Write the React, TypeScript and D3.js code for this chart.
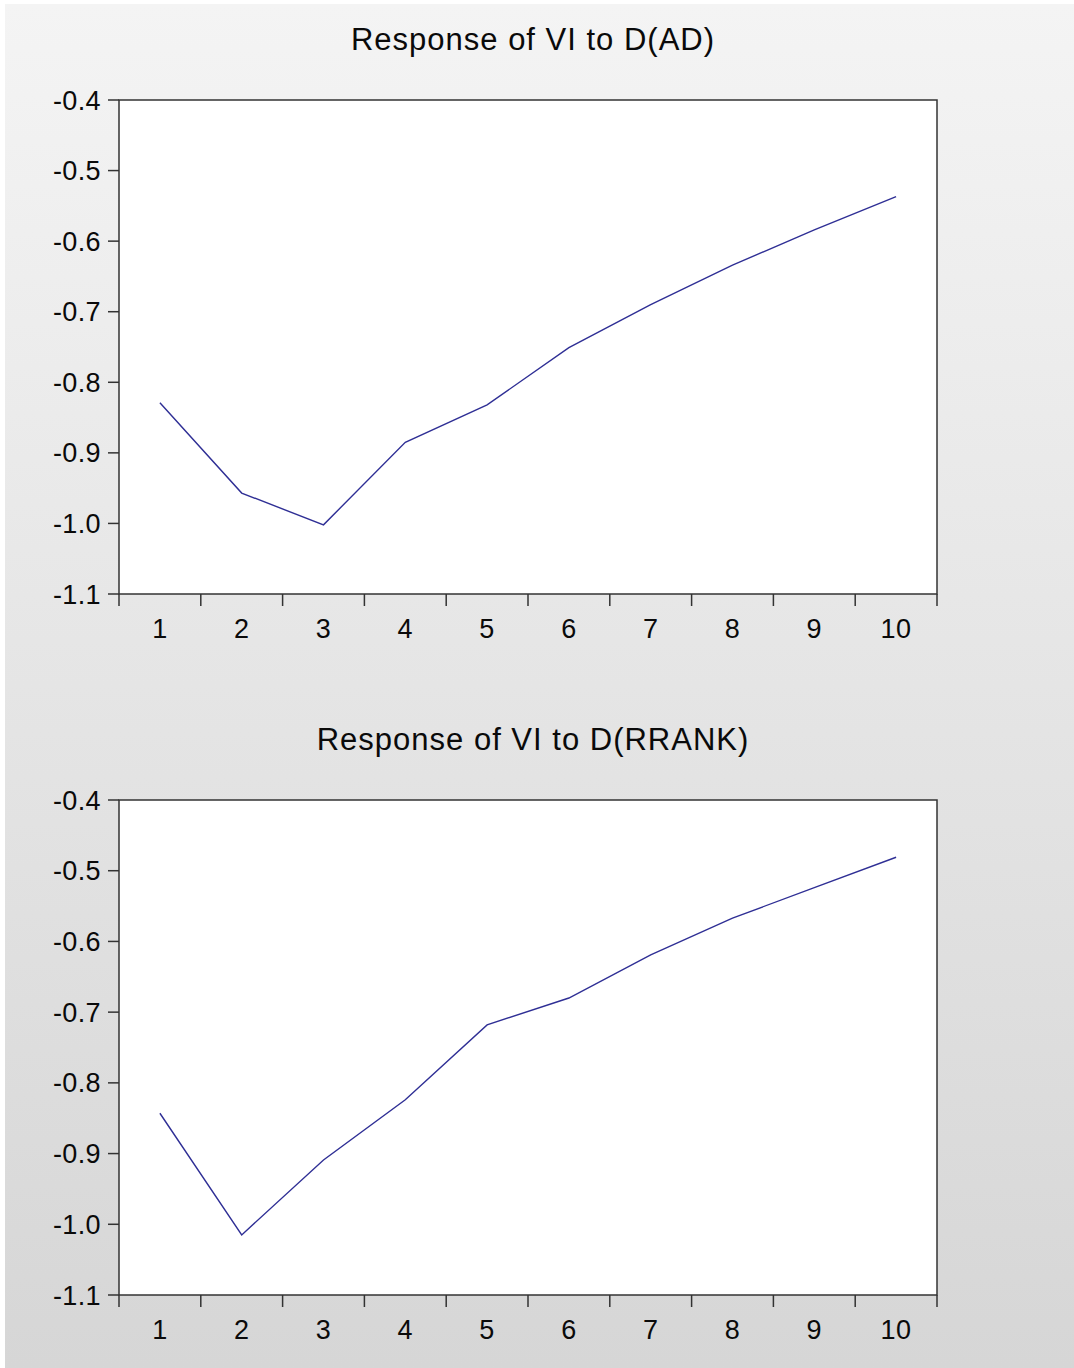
import { useEffect, useRef } from "react";
import * as d3 from "d3";

const PERIODS = [1, 2, 3, 4, 5, 6, 7, 8, 9, 10];
const Y_TICKS = [-0.4, -0.5, -0.6, -0.7, -0.8, -0.9, -1.0, -1.1];
const AD_RESPONSE = [-0.829, -0.957, -1.002, -0.885, -0.832, -0.751, -0.69, -0.634, -0.584, -0.537];
const RRANK_RESPONSE = [-0.843, -1.015, -0.909, -0.824, -0.718, -0.68, -0.619, -0.567, -0.524, -0.481];
const TITLES = ["Response of VI to D(AD)", "Response of VI to D(RRANK)"];

const W = 1074, H = 1368;
const FONT = "'Liberation Sans', Arial, sans-serif";

export default function App() {
  const ref = useRef<SVGSVGElement>(null);

  useEffect(() => {
    const el = ref.current;
    if (!el) return;
    const svg = d3.select(el);
    svg.selectAll("*").remove();

    // background gradient
    const defs = svg.append("defs");
    const grad = defs.append("linearGradient").attr("id", "bg").attr("x1", 0).attr("y1", 0).attr("x2", 0).attr("y2", 1);
    grad.append("stop").attr("offset", "0%").attr("stop-color", "#f4f4f4");
    grad.append("stop").attr("offset", "100%").attr("stop-color", "#d6d6d6");
    svg.append("rect").attr("width", W).attr("height", H).attr("fill", "#fff");
    svg.append("rect").attr("x", 5).attr("y", 4).attr("width", W - 5).attr("height", H - 4).attr("fill", "url(#bg)");

    const panels = [
      { title: TITLES[0], values: AD_RESPONSE, top: 100, bottom: 594 },
      { title: TITLES[1], values: RRANK_RESPONSE, top: 800, bottom: 1295 },
    ];
    const left = 119, right = 937;
    const fmt = (d: number) => d.toFixed(1); // plain hyphen minus

    panels.forEach((p) => {
      const x = d3.scaleBand<number>().domain(PERIODS).range([left, right]);
      const y = d3.scaleLinear().domain([-1.1, -0.4]).range([p.bottom, p.top]);
      const g = svg.append("g");

      g.append("text").attr("x", 533).attr("y", p.top - 50).attr("text-anchor", "middle")
        .attr("font-family", FONT).attr("font-size", 31).attr("letter-spacing", 1)
        .attr("fill", "#0a0a0a").text(p.title);

      g.append("rect").attr("x", left).attr("y", p.top).attr("width", right - left).attr("height", p.bottom - p.top)
        .attr("fill", "#fff").attr("stroke", "#333").attr("stroke-width", 1.5);

      // y ticks
      g.selectAll("line.yt").data(Y_TICKS).join("line")
        .attr("x1", left - 11).attr("x2", left).attr("y1", (d) => y(d)).attr("y2", (d) => y(d))
        .attr("stroke", "#333").attr("stroke-width", 1.5);
      g.selectAll("text.yl").data(Y_TICKS).join("text")
        .attr("x", left - 18).attr("y", (d) => y(d) + 9.5).attr("text-anchor", "end")
        .attr("font-family", FONT).attr("font-size", 27).attr("letter-spacing", 0.4)
        .attr("fill", "#0a0a0a").text((d) => fmt(d));

      // x ticks at band boundaries
      const bounds = PERIODS.map((d) => x(d) ?? 0).concat([right]);
      g.selectAll("line.xt").data(bounds).join("line")
        .attr("x1", (d) => d).attr("x2", (d) => d).attr("y1", p.bottom).attr("y2", p.bottom + 12)
        .attr("stroke", "#333").attr("stroke-width", 1.5);
      g.selectAll("text.xl").data(PERIODS).join("text")
        .attr("x", (d) => (x(d) ?? 0) + x.bandwidth() / 2).attr("y", p.bottom + 44).attr("text-anchor", "middle")
        .attr("font-family", FONT).attr("font-size", 27).attr("letter-spacing", 0.5)
        .attr("fill", "#0a0a0a").text((d) => d);

      const line = d3.line<number>()
        .x((_, i) => (x(PERIODS[i]) ?? 0) + x.bandwidth() / 2)
        .y((d) => y(d));
      g.append("path").attr("d", line(p.values)).attr("fill", "none")
        .attr("stroke", "#2f2f95").attr("stroke-width", 1.4);
    });
  }, []);

  return (
    <svg ref={ref} width={W} height={H} viewBox={`0 0 ${W} ${H}`}
      style={{ position: "absolute", left: 0, top: 0, display: "block" }} />
  );
}
